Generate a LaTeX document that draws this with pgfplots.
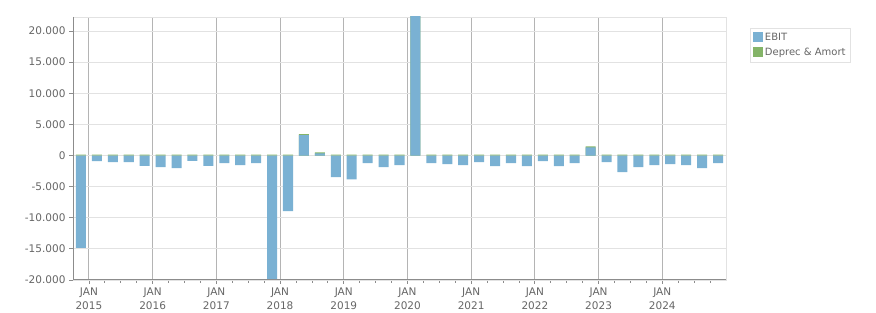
\documentclass[border=0pt]{standalone}
\usepackage{fontspec}
\setmainfont{DejaVu Sans}
\usepackage{pgfplots}
\pgfplotsset{compat=1.18}
\usepackage{pgfplotstable}
\definecolor{ebit}{HTML}{7AB1D3}
\definecolor{da}{HTML}{84B468}
\definecolor{txt}{HTML}{666666}
\definecolor{axisgray}{HTML}{8C8C8C}
\definecolor{gridlight}{HTML}{E2E2E2}
\definecolor{griddark}{HTML}{B4B4B4}

\pgfplotstableread{
x     EBIT    DA
-0.5  -14850  160
0.5   -900    160
1.5   -1075   160
2.5   -1075   160
3.5   -1670   160
4.5   -1880   160
5.5   -2040   160
6.5   -860    160
7.5   -1670   160
8.5   -1240   160
9.5   -1560   160
10.5  -1240   160
11.5  -20800  160
12.5  -8950   160
13.5  3280    170
14.5  330     180
15.5  -3490   160
16.5  -3820   160
17.5  -1240   160
18.5  -1880   160
19.5  -1560   160
20.5  24000   160
21.5  -1240   160
22.5  -1400   160
23.5  -1560   160
24.5  -1080   160
25.5  -1720   160
26.5  -1240   160
27.5  -1720   160
28.5  -910    160
29.5  -1720   160
30.5  -1240   160
31.5  1290    170
32.5  -1080   160
33.5  -2690   160
34.5  -1880   160
35.5  -1560   160
36.5  -1400   160
37.5  -1560   160
38.5  -2040   160
39.5  -1240   160
}\data

\begin{document}
\begin{tikzpicture}
\useasboundingbox (0pt,0pt) rectangle (876pt,313pt);
\begin{axis}[
  at={(73pt,33pt)}, anchor=south west,
  scale only axis, width=653pt, height=263pt,
  xmin=-1, xmax=40, ymin=-20000, ymax=22250,
  xtick={0,4,...,36},
  xticklabels={JAN\\2015,JAN\\2016,JAN\\2017,JAN\\2018,JAN\\2019,JAN\\2020,JAN\\2021,JAN\\2022,JAN\\2023,JAN\\2024},
  minor xtick={1,...,39},
  ytick={-20000,-15000,...,20000},
  scaled y ticks=false,
  /pgf/number format/assume math mode=true,
  /pgf/number format/1000 sep={.},
  tick pos=left,
  tick align=outside,
  major tick length=4pt,
  minor tick length=3pt,
  every tick/.style={draw=axisgray, line width=0.8pt},
  xmajorgrids, ymajorgrids,
  x grid style={draw=griddark, line width=1.1pt},
  y grid style={draw=gridlight, line width=0.9pt},
  axis line style={draw=gridlight, line width=0.9pt},
  x tick label style={align=center, font=\fontsize{10.5}{14.5}\selectfont, text=txt},
  y tick label style={font=\fontsize{10.5}{14}\selectfont, text=txt},
  legend style={at={(1,1)}, anchor=north west, xshift=24pt, yshift=-11pt,
    draw=gridlight, line width=0.9pt, font=\fontsize{10}{12}\selectfont, text=txt,
    inner sep=3pt, row sep=2pt},
  legend cell align=left,
  reverse legend,
  legend image code/.code={\fill[#1] (0pt,-4pt) rectangle (9.5pt,5.5pt);},
]
\addplot[ybar, bar width=0.63, bar shift=0pt, fill=da, draw=none]
  table[x=x, y expr={max(\thisrow{EBIT},0)+\thisrow{DA}}] {\data};
\addlegendentry{Deprec \& Amort}
\addplot[ybar, bar width=0.63, bar shift=0pt, fill=ebit, draw=none]
  table[x=x, y=EBIT] {\data};
\addlegendentry{EBIT}
\draw[axisgray, line width=1.2pt] (rel axis cs:0,1) -- (rel axis cs:0,0) -- (rel axis cs:1,0);
\end{axis}
\end{tikzpicture}
\end{document}
